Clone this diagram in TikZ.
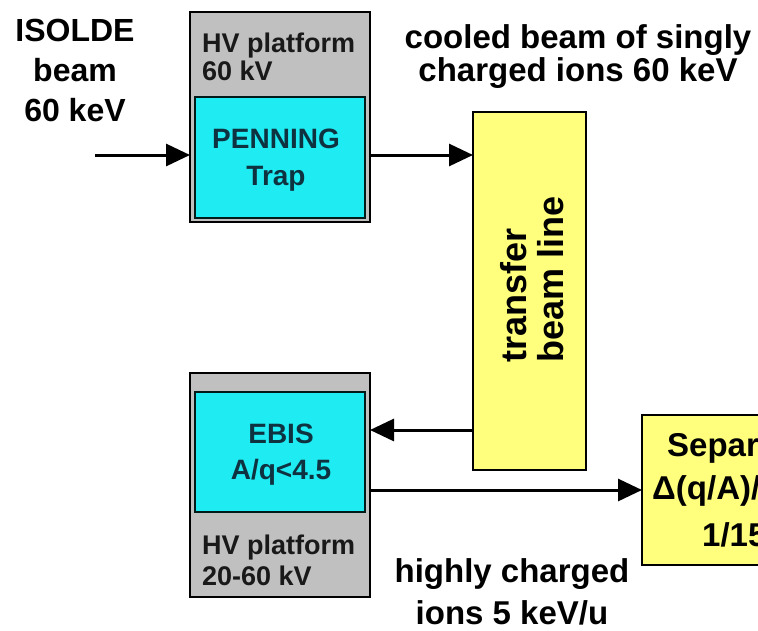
\documentclass[tikz,border=0pt]{standalone}
\usepackage{fontspec}
\setmainfont{Liberation Sans}
\usetikzlibrary{arrows.meta}
\definecolor{hvgray}{RGB}{192,192,192}
\definecolor{trapcyan}{RGB}{30,236,242}
\definecolor{lineyellow}{RGB}{255,255,125}
\definecolor{deepteal}{RGB}{15,50,65}
\tikzset{
  hvbox/.style={draw=black, line width=2pt, fill=hvgray, inner sep=0pt, outer sep=0pt},
  cyanbox/.style={draw=black!80!teal, line width=2pt, fill=trapcyan, inner sep=0pt, outer sep=0pt,
    text=deepteal, align=center, font=\bfseries\fontsize{28}{36}\selectfont},
  yelbox/.style={draw=black, line width=2pt, fill=lineyellow, inner sep=0pt, outer sep=0pt},
  lbl/.style={inner sep=0pt, align=center, text=black},
  hvtext/.style={inner sep=0pt, align=left, text=black!90, font=\bfseries\fontsize{27}{28}\selectfont},
  beam/.style={line width=3pt, -{Triangle[length=24pt,width=22pt]}},
}
\begin{document}
\begin{tikzpicture}[x=1pt,y=-1pt]
\useasboundingbox (0,0) rectangle (758,630);
\clip (0,0) rectangle (758,630);
\fill[white] (0,0) rectangle (758,630);

% boxes
\node[hvbox, minimum width=180pt, minimum height=210pt] (hvtop) at (280,117) {};
\node[cyanbox, minimum width=170pt, minimum height=121pt] (penning) at (280,157.5) {};
\node[lbl, text=deepteal, font=\bfseries\fontsize{28}{37}\selectfont] (penningtxt) at (276,160) {PENNING\\Trap};
\node[hvtext, anchor=north west] (hvtoptxt) at (202,33) {HV platform\\60 kV};

\node[hvbox, minimum width=180pt, minimum height=224pt] (hvbot) at (280,485) {};
\node[cyanbox, minimum width=170pt, minimum height=120pt] (ebis) at (280,452) {};
\node[lbl, text=deepteal, font=\bfseries\fontsize{28}{36}\selectfont] (ebistxt) at (281,455) {EBIS\\A/q<4.5};
\node[hvtext, anchor=north west, font=\bfseries\fontsize{27}{31}\selectfont] (hvbottxt) at (202,535) {HV platform\\20-60 kV};

\node[yelbox, minimum width=113pt, minimum height=358pt] (transfer) at (529.5,291) {};
\node[lbl, align=left, rotate=90, font=\bfseries\fontsize{36}{37}\selectfont] (transfertxt) at (532,279) {transfer\\beam line};

\node[yelbox, minimum width=170pt, minimum height=150pt] (sep) at (727,490) {};
\node[lbl, anchor=base west, font=\bfseries\fontsize{33}{36}\selectfont] (sep1) at (667,456) {Separator};
\node[lbl, anchor=base west, font=\bfseries\fontsize{33}{36}\selectfont] (sep2) at (652,499) {Δ(q/A)/(q/A)};
\node[lbl, anchor=base west, font=\bfseries\fontsize{33}{36}\selectfont] (sep3) at (702,546) {1/150};

% labels
\node[lbl, font=\bfseries\fontsize{32}{40}\selectfont] (isolde) at (75,70) {ISOLDE\\beam\\60 keV};
\node[lbl, font=\bfseries\fontsize{33}{33}\selectfont] (cooled) at (578,57) {cooled beam of singly\\charged ions 60 keV};
\node[lbl, font=\bfseries\fontsize{33}{42}\selectfont] (highly) at (512,592) {highly charged\\ions 5 keV/u};

% connectors
\coordinate (isoin) at (95,155);
\draw[beam] (isoin) -- (isoin -| hvtop.west);
\draw[beam] (hvtop.east |- isoin) -- (transfer.west |- isoin);
\coordinate (backy) at (0,430);
\draw[beam] (transfer.west |- backy) -- (hvbot.east |- backy);
\draw[beam] (hvbot.east |- sep.west) -- (sep.west);
\end{tikzpicture}
\end{document}
